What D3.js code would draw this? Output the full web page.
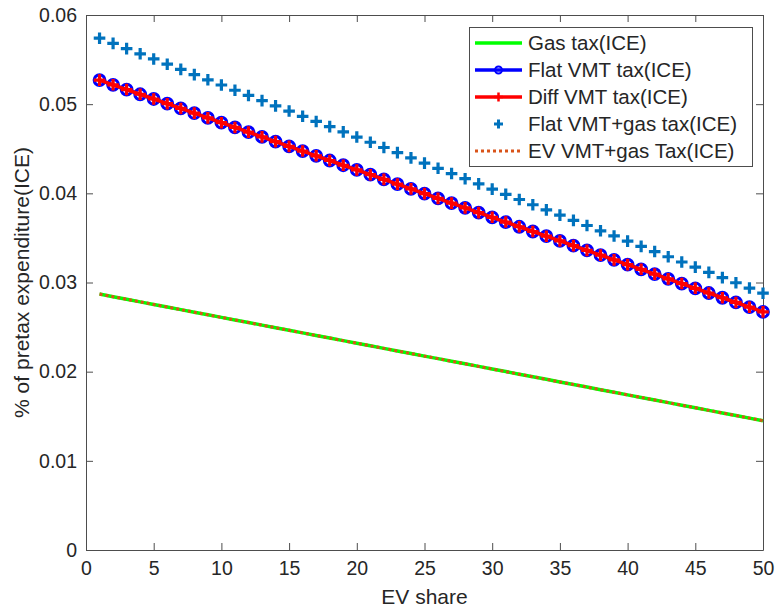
<!DOCTYPE html>
<html>
<head>
<meta charset="utf-8">
<script src="https://cdn.jsdelivr.net/npm/d3@7"></script>
<style>
  html, body { margin: 0; padding: 0; background: #fff; }
  svg { display: block; }
  text { font-family: "Liberation Sans", Arial, Helvetica, sans-serif; fill: #262626; }
</style>
</head>
<body>
<svg id="chart" width="775" height="610"></svg>
<script>
// ---- data ----
const evShare = [1,2,3,4,5,6,7,8,9,10,11,12,13,14,15,16,17,18,19,20,21,22,23,24,25,
                 26,27,28,29,30,31,32,33,34,35,36,37,38,39,40,41,42,43,44,45,46,47,48,49,50];
const gasTax = [0.02870,0.02841,0.02812,0.02783,0.02754,0.02725,0.02696,0.02667,0.02638,0.02609,
                0.02580,0.02551,0.02522,0.02493,0.02464,0.02435,0.02406,0.02377,0.02348,0.02319,
                0.02290,0.02261,0.02232,0.02203,0.02174,0.02146,0.02117,0.02088,0.02059,0.02030,
                0.02001,0.01972,0.01943,0.01914,0.01885,0.01856,0.01827,0.01798,0.01769,0.01740,
                0.01711,0.01682,0.01653,0.01624,0.01595,0.01566,0.01537,0.01508,0.01479,0.01450];
const flatVMT = [0.05270,0.05217,0.05164,0.05111,0.05058,0.05005,0.04952,0.04899,0.04846,0.04792,
                 0.04739,0.04686,0.04633,0.04580,0.04527,0.04474,0.04421,0.04368,0.04315,0.04262,
                 0.04209,0.04156,0.04103,0.04050,0.03997,0.03943,0.03890,0.03837,0.03784,0.03731,
                 0.03678,0.03625,0.03572,0.03519,0.03466,0.03413,0.03360,0.03307,0.03254,0.03201,
                 0.03148,0.03094,0.03041,0.02988,0.02935,0.02882,0.02829,0.02776,0.02723,0.02670];
const diffVMT = [0.05270,0.05217,0.05164,0.05111,0.05058,0.05005,0.04952,0.04899,0.04846,0.04792,
                 0.04739,0.04686,0.04633,0.04580,0.04527,0.04474,0.04421,0.04368,0.04315,0.04262,
                 0.04209,0.04156,0.04103,0.04050,0.03997,0.03943,0.03890,0.03837,0.03784,0.03731,
                 0.03678,0.03625,0.03572,0.03519,0.03466,0.03413,0.03360,0.03307,0.03254,0.03201,
                 0.03148,0.03094,0.03041,0.02988,0.02935,0.02882,0.02829,0.02776,0.02723,0.02670];
const flatVMTGas = [0.05740,0.05682,0.05623,0.05565,0.05507,0.05448,0.05390,0.05331,0.05273,0.05215,
                    0.05156,0.05098,0.05040,0.04981,0.04923,0.04864,0.04806,0.04748,0.04689,0.04631,
                    0.04573,0.04514,0.04456,0.04398,0.04339,0.04281,0.04222,0.04164,0.04106,0.04047,
                    0.03989,0.03931,0.03872,0.03814,0.03756,0.03697,0.03639,0.03580,0.03522,0.03464,
                    0.03405,0.03347,0.03289,0.03230,0.03172,0.03113,0.03055,0.02997,0.02938,0.02880];
const evVMTGas = [0.02870,0.02841,0.02812,0.02783,0.02754,0.02725,0.02696,0.02667,0.02638,0.02609,
                  0.02580,0.02551,0.02522,0.02493,0.02464,0.02435,0.02406,0.02377,0.02348,0.02319,
                  0.02290,0.02261,0.02232,0.02203,0.02174,0.02146,0.02117,0.02088,0.02059,0.02030,
                  0.02001,0.01972,0.01943,0.01914,0.01885,0.01856,0.01827,0.01798,0.01769,0.01740,
                  0.01711,0.01682,0.01653,0.01624,0.01595,0.01566,0.01537,0.01508,0.01479,0.01450];
const xTicks = [0,5,10,15,20,25,30,35,40,45,50];
const yTicks = [0,0.01,0.02,0.03,0.04,0.05,0.06];
const yTickLabels = ["0","0.01","0.02","0.03","0.04","0.05","0.06"];
const legendLabels = ["Gas tax(ICE)","Flat VMT tax(ICE)","Diff VMT tax(ICE)","Flat VMT+gas tax(ICE)","EV VMT+gas Tax(ICE)"];
const xLabel = "EV share";
const yLabel = "% of pretax expenditure(ICE)";

// ---- layout ----
const L = 86, T = 15, R = 763, B = 550;
const svg = d3.select("#chart");
const x = d3.scaleLinear().domain([0, 50]).range([L, R]);
const y = d3.scaleLinear().domain([0, 0.06]).range([B, T]);
const axisColor = "#4d4d4d";
const tickLen = 7;

// axes (MATLAB-like box, inward ticks)
const gx = svg.append("g").attr("transform", `translate(0,${B})`)
  .call(d3.axisBottom(x).tickValues(xTicks).tickFormat(d3.format("d")).tickSizeInner(-tickLen).tickSizeOuter(0).tickPadding(8));
const gxTop = svg.append("g").attr("transform", `translate(0,${T})`)
  .call(d3.axisTop(x).tickValues(xTicks).tickFormat("").tickSizeInner(-tickLen).tickSizeOuter(0));
const gy = svg.append("g").attr("transform", `translate(${L},0)`)
  .call(d3.axisLeft(y).tickValues(yTicks).tickFormat((d, i) => yTickLabels[i]).tickSizeInner(-tickLen).tickSizeOuter(0).tickPadding(8));
const gyR = svg.append("g").attr("transform", `translate(${R},0)`)
  .call(d3.axisRight(y).tickValues(yTicks).tickFormat("").tickSizeInner(-tickLen).tickSizeOuter(0));
[gx, gxTop, gy, gyR].forEach(g => {
  g.select(".domain").attr("stroke", axisColor).attr("stroke-width", 1);
  g.selectAll(".tick line").attr("stroke", axisColor);
  g.selectAll(".tick text").style("font-size", "19.5px").attr("fill", "#262626")
    .style("font-family", '"Liberation Sans", Arial, sans-serif');
});
gx.selectAll(".tick text").attr("dy", "0.75em").attr("y", 10);
gy.selectAll(".tick text").attr("x", -9);

// axis labels
svg.append("text").attr("x", (L + R) / 2).attr("y", 604).attr("text-anchor", "middle")
  .style("font-size", "21px").text(xLabel);
svg.append("text").attr("transform", `translate(29,${(T + B) / 2}) rotate(-90)`)
  .attr("text-anchor", "middle").style("font-size", "21px").text(yLabel);

const pts = arr => evShare.map((v, i) => [v, arr[i]]);
const line = d3.line().x(d => x(d[0])).y(d => y(d[1]));
const plot = svg.append("g");

// Gas tax (green)
plot.append("path").datum(pts(gasTax)).attr("d", line)
  .attr("fill", "none").attr("stroke", "#00ff00").attr("stroke-width", 3.5);

// Flat VMT (blue line + circles)
plot.append("path").datum(pts(flatVMT)).attr("d", line)
  .attr("fill", "none").attr("stroke", "#0000ff").attr("stroke-width", 3.5);
plot.selectAll("circle.flat").data(pts(flatVMT)).join("circle").attr("class", "flat")
  .attr("cx", d => x(d[0])).attr("cy", d => y(d[1])).attr("r", 5.3)
  .attr("fill", "none").attr("stroke", "#0000ff").attr("stroke-width", 3.2);

// Diff VMT (red line + plus)
plot.append("path").datum(pts(diffVMT)).attr("d", line)
  .attr("fill", "none").attr("stroke", "#ff0000").attr("stroke-width", 3.5);
const plusPath = s => `M${-s},0H${s}M0,${-s}V${s}`;
plot.selectAll("path.diffplus").data(pts(diffVMT)).join("path").attr("class", "diffplus")
  .attr("transform", d => `translate(${x(d[0])},${y(d[1])})`)
  .attr("d", plusPath(5.8)).attr("stroke", "#ff0000").attr("stroke-width", 3.2).attr("fill", "none");

// Flat VMT + gas (plus markers only)
plot.selectAll("path.fgplus").data(pts(flatVMTGas)).join("path").attr("class", "fgplus")
  .attr("transform", d => `translate(${x(d[0])},${y(d[1])})`)
  .attr("d", plusPath(5.8)).attr("stroke", "#0072bd").attr("stroke-width", 3.2).attr("fill", "none");

// EV VMT + gas (dotted orange)
plot.append("path").datum(pts(evVMTGas)).attr("d", line)
  .attr("fill", "none").attr("stroke", "#d95319").attr("stroke-width", 3)
  .attr("stroke-dasharray", "3,3");

// ---- legend ----
const lg = svg.append("g");
lg.append("rect").attr("x", 469.5).attr("y", 27.5).attr("width", 283).attr("height", 139)
  .attr("fill", "#fff").attr("stroke", axisColor).attr("stroke-width", 1);
const rowY = [43, 70, 97, 124, 151];
const x1 = 475, x2 = 522, xm = (x1 + x2) / 2;
legendLabels.forEach((lab, i) => {
  const yy = rowY[i];
  const g = lg.append("g");
  if (i === 0) g.append("line").attr("x1", x1).attr("x2", x2).attr("y1", yy).attr("y2", yy).attr("stroke", "#00ff00").attr("stroke-width", 3.5);
  if (i === 1) {
    g.append("line").attr("x1", x1).attr("x2", x2).attr("y1", yy).attr("y2", yy).attr("stroke", "#0000ff").attr("stroke-width", 3.5);
    g.append("circle").attr("cx", xm).attr("cy", yy).attr("r", 3.5).attr("fill", "none").attr("stroke", "#0000ff").attr("stroke-width", 2);
  }
  if (i === 2) {
    g.append("line").attr("x1", x1).attr("x2", x2).attr("y1", yy).attr("y2", yy).attr("stroke", "#ff0000").attr("stroke-width", 3.5);
    g.append("path").attr("transform", `translate(${xm},${yy})`).attr("d", plusPath(4.5)).attr("stroke", "#ff0000").attr("stroke-width", 2.5);
  }
  if (i === 3) g.append("path").attr("transform", `translate(${xm},${yy})`).attr("d", plusPath(4.5)).attr("stroke", "#0072bd").attr("stroke-width", 3);
  if (i === 4) g.append("line").attr("x1", x1).attr("x2", x2).attr("y1", yy).attr("y2", yy).attr("stroke", "#d95319").attr("stroke-width", 3).attr("stroke-dasharray", "3,3");
  g.append("text").attr("x", 528).attr("y", yy).attr("dy", "0.36em").style("font-size", "20.5px").text(lab);
});
</script>
</body>
</html>
